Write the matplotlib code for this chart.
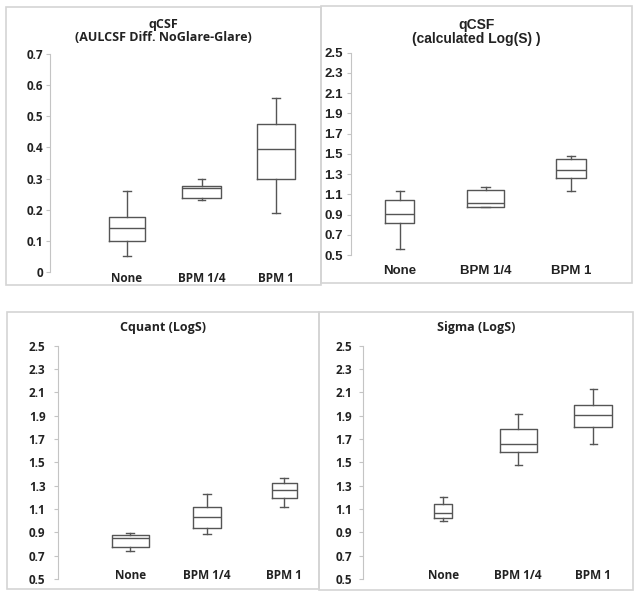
import matplotlib
matplotlib.use("Agg")
import matplotlib.pyplot as plt
from matplotlib.patches import Rectangle

W, H = 641, 597

groups = ["None", "BPM 1/4", "BPM 1"]

# per group: whisker low, Q1, median, Q3, whisker high
auc_diff = [[0.05, 0.10, 0.14, 0.178, 0.26],
            [0.23, 0.237, 0.27, 0.275, 0.30],
            [0.19, 0.30, 0.395, 0.475, 0.56]]
calc_logs = [[0.56, 0.815, 0.905, 1.04, 1.13],
             [0.97, 0.975, 1.01, 1.14, 1.17],
             [1.13, 1.26, 1.345, 1.445, 1.475]]
cquant = [[0.74, 0.775, 0.85, 0.875, 0.895],
          [0.89, 0.94, 1.035, 1.12, 1.23],
          [1.12, 1.195, 1.26, 1.32, 1.37]]
sigma = [[1.00, 1.02, 1.065, 1.145, 1.20],
         [1.48, 1.585, 1.655, 1.79, 1.915],
         [1.655, 1.805, 1.905, 1.99, 2.13]]

ticks_auc = [0, 0.1, 0.2, 0.3, 0.4, 0.5, 0.6, 0.7]
ticks_logs = [0.5, 0.7, 0.9, 1.1, 1.3, 1.5, 1.7, 1.9, 2.1, 2.3, 2.5]

box_col = "#555555"
axis_col = "#c4c4c4"
border_col = "#d4d4d4"
calibri = ["Open Sans", "DejaVu Sans"]
arial = ["Liberation Sans", "DejaVu Sans"]

fig = plt.figure(figsize=(W / 100, H / 100), dpi=100)


def px_rect(l, r, t, b):
    return [l / W, 1 - b / H, (r - l) / W, (b - t) / H]


def panel(border, axrect, stats, widths, ticks, ylim, xlim, title, title_y,
          fam, fsize, tsize, xpad, ypad):
    l, t, r, b = border
    fig.add_artist(Rectangle((l / W, 1 - b / H), (r - l) / W, (b - t) / H,
                             transform=fig.transFigure, fill=False,
                             ec=border_col, lw=1.2))
    fig.text((l + r) / 2 / W, 1 - title_y / H, title, ha="center", va="center",
             family=fam, weight="bold", fontsize=tsize, color="#222222",
             linespacing=1.05)
    ax = fig.add_axes(px_rect(*axrect))
    bstats = [dict(whislo=s[0], q1=s[1], med=s[2], q3=s[3], whishi=s[4],
                   fliers=[]) for s in stats]
    lp = dict(color=box_col, lw=1.0)
    ax.bxp(bstats, positions=[1, 2, 3], widths=widths, capwidths=0.1,
           boxprops=lp, medianprops=lp, whiskerprops=lp, capprops=lp,
           showfliers=False, manage_ticks=False)
    ax.set_xlim(*xlim)
    ax.set_ylim(*ylim)
    ax.set_yticks(ticks)
    ax.set_yticklabels([("%g" % v) if v != 0 else "0" for v in ticks])
    ax.set_xticks([1, 2, 3])
    ax.set_xticklabels(groups)
    for s in ["top", "right", "bottom"]:
        ax.spines[s].set_visible(False)
    ax.spines["left"].set_color(axis_col)
    ax.tick_params(axis="y", length=3, color=axis_col, pad=ypad)
    ax.tick_params(axis="x", length=0, pad=xpad)
    for lab in ax.get_xticklabels() + ax.get_yticklabels():
        lab.set_family(fam)
        lab.set_weight("bold")
        lab.set_fontsize(fsize)
        lab.set_color("#222222")
    ax.patch.set_alpha(0)
    return ax


panel((6, 7, 321, 285), (50, 321, 54, 272), auc_diff, [0.49, 0.53, 0.51],
      ticks_auc, (0, 0.7), (-0.03, 3.6),
      "qCSF\n(AULCSF Diff. NoGlare-Glare)", 31, calibri, 8.5, 9, 0, 2)
panel((321, 6, 632, 283), (351, 632, 52.7, 255), calc_logs, [0.34, 0.44, 0.35],
      ticks_logs, (0.5, 2.5), (0.43, 3.71),
      "qCSF\n(calculated Log(S) )", 32, arial, 9.5, 10, 7, 3)
panel((7, 312, 319, 589), (58, 319, 345.7, 579), cquant, [0.48, 0.36, 0.32],
      ticks_logs, (0.5, 2.5), (0.065, 3.45),
      "Cquant (LogS)", 328, calibri, 8.5, 9, -7, 6)
panel((319, 312, 633, 590), (363, 633, 345.7, 579), sigma, [0.24, 0.49, 0.51],
      ticks_logs, (0.5, 2.5), (-0.07, 3.53),
      "Sigma (LogS)", 328, calibri, 8.5, 9, -7, 5)

fig.savefig("out.png", dpi=100)
